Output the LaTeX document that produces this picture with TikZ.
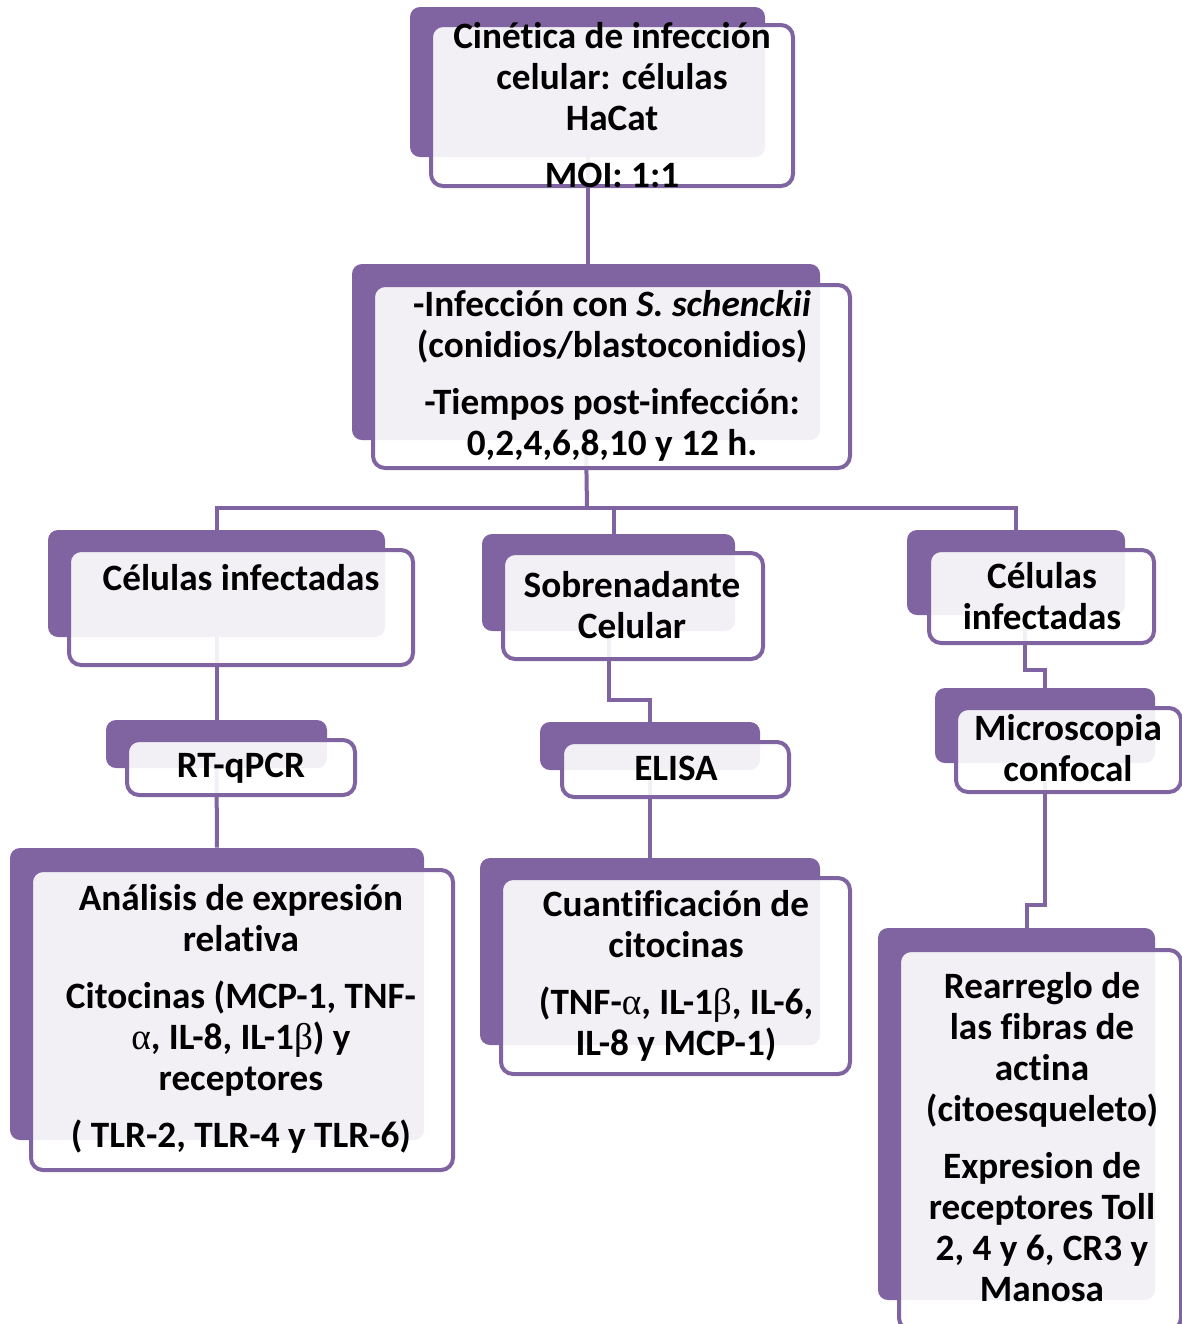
\documentclass[tikz,border=0pt]{standalone}
\usepackage{fontspec}
\setmainfont[Ligatures=CommonOff]{Carlito}
\newfontfamily\grk{Liberation Serif}
\newcommand{\alf}{{\grk\mdseries α}}
\newcommand{\bet}{{\grk\mdseries β}}
\definecolor{morado}{HTML}{8064A2}

\begin{document}
\begin{tikzpicture}[
        x=0.5pt, y=-0.5pt,
        back/.style={draw=none, fill=morado, rounded corners=5pt, inner sep=0pt},
        front/.style={draw=morado, line width=2pt, fill=white, fill opacity=0.9, rounded corners=6pt, inner sep=0pt},
        txt/.style={align=center, inner sep=0pt, font=\fontsize{18.6}{20.5}\selectfont\bfseries},
        conn/.style={draw=morado, line width=2pt},
    ]
    \useasboundingbox (0,0) rectangle (1182,1324);

    % back shapes
    \node[back, minimum width=177.5pt, minimum height=75pt] (bcin) at (587.5,82) {};
    \node[back, minimum width=234pt, minimum height=88pt] (binf) at (586,352) {};
    \node[back, minimum width=168.5pt, minimum height=53.5pt] (bcel) at (216.5,583.5) {};
    \node[back, minimum width=110.5pt, minimum height=24pt] (bpcr) at (216.5,744) {};
    \node[back, minimum width=207pt, minimum height=146pt] (bexp) at (217,994) {};
    \node[back, minimum width=126.5pt, minimum height=48.5pt] (bsob) at (608.5,582.5) {};
    \node[back, minimum width=110pt, minimum height=24pt] (beli) at (650,746) {};
    \node[back, minimum width=170pt, minimum height=93.5pt] (bcua) at (650,951.5) {};
    \node[back, minimum width=109pt, minimum height=42.5pt] (bcon) at (1016,572.5) {};
    \node[back, minimum width=110pt, minimum height=37.5pt] (bmic) at (1045,725.5) {};
    \node[back, minimum width=138.5pt, minimum height=186pt] (brea) at (1016.5,1114) {};

    % connectors
    \coordinate (hub) at (587,508);
    \draw[conn] (bcin.south) -- (bcin.south |- binf.north);
    \draw[conn] (binf.south) -- (hub);
    \draw[conn] (bcel.north) |- (hub) -| (bcon.north);
    \draw[conn] ([xshift=2.5pt]bsob.north) |- (hub);
    \draw[conn] (bcel.south) -- (bpcr.north);
    \draw[conn] (bpcr.south) -- (bexp.north);
    \draw[conn] (bsob.south) -- ++(0,69) -| (beli.north);
    \draw[conn] (beli.south) -- (bcua.north);
    \draw[conn] ([xshift=4.5pt]bcon.south) -- ++(0,55) -| (bmic.north);
    \draw[conn] (bmic.south) -- ++(0,142) -| ([xshift=5pt]brea.north);

    % front shapes
    \node[front, minimum width=181pt, minimum height=80.5pt] (fcin) at (612,105.5) {};
    \node[front, minimum width=238.5pt, minimum height=91.5pt] (finf) at (611.5,376.5) {};
    \node[front, minimum width=172pt, minimum height=57.5pt] (fcel) at (241,607.5) {};
    \node[front, minimum width=114pt, minimum height=27.5pt] (fpcr) at (241,767.5) {};
    \node[front, minimum width=211pt, minimum height=150pt] (fexp) at (242,1020) {};
    \node[front, minimum width=130pt, minimum height=53pt] (fsob) at (633,606) {};
    \node[front, minimum width=113.5pt, minimum height=27.5pt] (feli) at (675.5,769.5) {};
    \node[front, minimum width=174.5pt, minimum height=98pt] (fcua) at (675.5,976) {};
    \node[front, minimum width=112.5pt, minimum height=46.5pt] (fcon) at (1041.5,596.5) {};
    \node[front, minimum width=112.5pt, minimum height=42pt] (fmic) at (1068.5,750) {};
    \node[front, minimum width=141pt, minimum height=190pt] (frea) at (1040,1140) {};

    % texts
    \node[txt] (tcin) at (612,105.5) {Cinética de infección\\ celular: células\\ HaCat\\[8pt] MOI: 1:1};
    \node[txt] (tinf) at (612,375.5) {-Infección con \textit{S. schenckii}\\ (conidios/blastoconidios)\\[8pt] -Tiempos post-infección:\\ 0,2,4,6,8,10 y 12 h.};
    \node[txt] (tcel) at (241,578) {Células infectadas};
    \node[txt] (tpcr) at (241,768) {RT-qPCR};
    \node[txt] (texp) at (241,1018.5) {Análisis de expresión\\ relativa\\[8pt] Citocinas (MCP-1, TNF-\\ \alf, IL-8, IL-1\bet) y\\ receptores\\[8pt] ( TLR-2, TLR-4 y TLR-6)};
    \node[txt] (tsob) at (632,605.5) {Sobrenadante\\ Celular};
    \node[txt] (teli) at (676,768) {ELISA};
    \node[txt] (tcua) at (676,976) {Cuantificación de\\ citocinas\\[8pt] (TNF-\alf, IL-1\bet, IL-6,\\ IL-8 y MCP-1)};
    \node[txt] (tcon) at (1042,596) {Células\\ infectadas};
    \node[txt] (tmic) at (1068,748.5) {Microscopia\\ confocal};
    \node[txt] (trea) at (1042,1137.5) {Rearreglo de\\ las fibras de\\ actina\\ (citoesqueleto)\\[8pt] Expresion de\\ receptores Toll\\ 2, 4 y 6, CR3 y\\ Manosa};
\end{tikzpicture}
\end{document}
